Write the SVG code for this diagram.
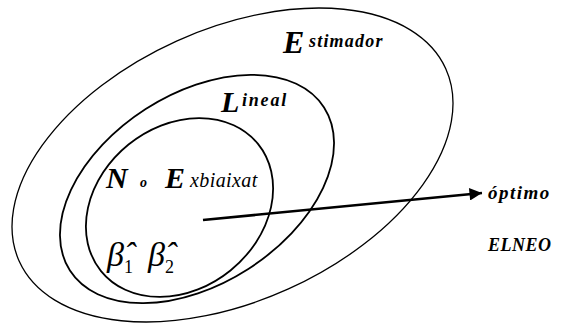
<svg xmlns="http://www.w3.org/2000/svg" width="563" height="323" viewBox="0 0 563 323">
<style>
.el{fill:none;stroke:#000}
text{font-family:'Liberation Serif','Times New Roman','DejaVu Serif',serif;fill:#000}
.bi{font-style:italic;font-weight:bold}
.it{font-style:italic}
.n{font-style:normal}
</style>
<defs>
<marker id="ah" viewBox="0 0 10 10" refX="10" refY="5" markerWidth="6.5" markerHeight="5" orient="auto" markerUnits="strokeWidth">
<path d="M0,0 L10,5 L0,10 z" fill="#000"/>
</marker>
</defs>
<g id="estimador">
<ellipse class="el" stroke-width="1.3" cx="232.5" cy="165" rx="234" ry="136" transform="rotate(-24.3 232.5 165)"/>
<text class="bi" x="283" y="53" font-size="32">E</text>
<text class="bi" x="309" y="47" font-size="18" letter-spacing="1.2">stimador</text>
</g>
<g id="lineal">
<ellipse class="el" stroke-width="1.8" cx="197" cy="189" rx="151" ry="95" transform="rotate(-32.7 197 189)"/>
<text class="bi" x="221" y="112" font-size="30">L</text>
<text class="bi" x="242" y="106" font-size="18" letter-spacing="1.8">ineal</text>
</g>
<g id="insesgado">
<ellipse class="el" stroke-width="1.8" cx="179.5" cy="207.5" rx="101" ry="81" transform="rotate(-39 179.5 207.5)"/>
<text class="bi" x="106" y="188" font-size="30">N</text>
<text class="bi" x="140" y="187" font-size="14">o</text>
<text class="bi" x="165" y="188" font-size="30">E</text>
<text class="it" x="190" y="187" font-size="20" letter-spacing="0.4">xbiaixat</text>
<text class="it" x="107" y="266" font-size="34">β&#x302;<tspan class="n" font-size="18" dy="7">1</tspan></text>
<text class="it" x="148" y="266" font-size="34" fill="#4a4038">β&#x302;<tspan class="n" font-size="18" dy="7">2</tspan></text>
</g>
<g id="connectors">
<line x1="203" y1="220" x2="482" y2="193" stroke="#000" stroke-width="2.5" marker-end="url(#ah)"/>
</g>
<g id="optimo">
<text class="bi" x="488" y="199" font-size="19" letter-spacing="1.5">óptimo</text>
<text class="bi" x="488" y="251" font-size="18" letter-spacing="0.5">ELNEO</text>
</g>
</svg>
